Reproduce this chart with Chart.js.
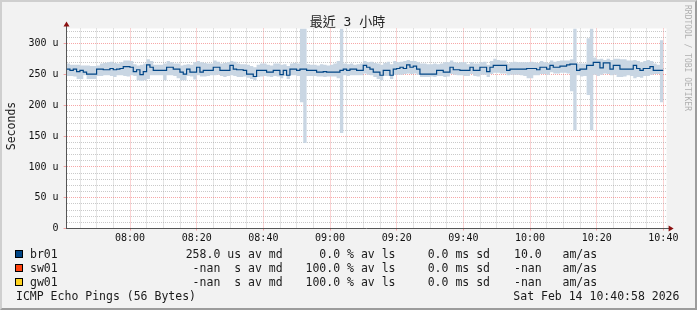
<!DOCTYPE html>
<html>
<head>
<meta charset="utf-8">
<script src="https://cdn.jsdelivr.net/npm/chart.js@4/dist/chart.umd.min.js"></script>
<style>
  html, body { margin: 0; padding: 0; }
  body { width: 697px; height: 310px; background: #f2f2f2; position: relative; overflow: hidden;
         font-family: 'DejaVu Sans Mono', monospace; color: #1a1a1a; }
  canvas { position: absolute; left: 0; top: 0; }
  #frame { position: absolute; left: 0; top: 0; width: 697px; height: 310px; box-sizing: border-box;
           border-top: 2px solid #cfcfcf; border-left: 2px solid #cfcfcf;
           border-right: 2px solid #9c9c9c; border-bottom: 2px solid #9c9c9c; pointer-events: none; }
  .t { position: absolute; white-space: pre; font-size: 11.5px; line-height: 14px; }
  .box { position: absolute; width: 8px; height: 8px; box-sizing: border-box; border: 1px solid #000; }
  #title { position: absolute; left: 0; width: 695px; top: 14px; text-align: center; white-space: pre;
           font-family: 'DejaVu Sans Mono', 'Noto Sans CJK TC', monospace; font-size: 13px; line-height: 16px; color: #222; }
  #ytitle { position: absolute; left: 11px; top: 126px; transform: translate(-50%, -50%) rotate(-90deg);
            font-size: 11.5px; white-space: pre; }
  #mark { position: absolute; left: 683px; top: 5px; writing-mode: vertical-rl; font-size: 8px;
          line-height: 9px; color: #b0b0b0; white-space: pre; }
</style>
</head>
<body>
<canvas id="chart" width="697" height="310"></canvas>
<div id="title">最近 3 小時</div>
<div id="ytitle">Seconds</div>
<div id="mark">RRDTOOL / TOBI OETIKER</div>
<div id="legend"></div>
<div id="frame"></div>
<script>
// graph window: 3 hours ending 10:40:58, one value per minute
const START = '07:40:58';
const SPAN_MIN = 180;

// median rtt (us) per minute
const medianUs = [
  259, 257, 259, 255, 257, 254, 251, 251, 251, 259, 259, 258, 258, 260, 258, 259, 260, 263, 263, 262,
  255, 258, 250, 255, 266, 262, 257, 257, 257, 257, 262, 262, 259, 259, 254, 251, 259, 254, 254, 262,
  254, 257, 257, 257, 262, 262, 257, 257, 257, 265, 259, 258, 258, 257, 251, 251, 247, 257, 257, 257,
  254, 254, 257, 257, 250, 257, 249, 259, 259, 257, 259, 259, 257, 257, 257, 254, 254, 255, 254, 254,
  254, 254, 257, 259, 257, 259, 259, 257, 257, 265, 262, 259, 254, 254, 249, 257, 257, 249, 259, 260,
  262, 260, 266, 262, 264, 259, 251, 251, 251, 251, 251, 257, 257, 254, 254, 262, 258, 258, 257, 257,
  257, 262, 257, 257, 262, 262, 255, 262, 265, 265, 265, 265, 257, 259, 259, 259, 259, 259, 260, 260,
  260, 258, 262, 262, 259, 265, 262, 262, 264, 264, 266, 267, 267, 257, 259, 259, 265, 265, 270, 270,
  261, 269, 269, 259, 265, 265, 259, 259, 259, 259, 265, 260, 257, 260, 260, 263, 257, 257, 257
];

// smoke band, highest ping per minute (us)
const smokeHigh = [
  268, 266, 266, 266, 265, 265, 265, 264, 264, 265, 268, 269, 270, 271, 269, 268, 270, 273, 273, 272,
  267, 265, 266, 268, 275, 272, 266, 266, 266, 268, 272, 270, 268, 268, 265, 266, 267, 266, 270, 272,
  270, 269, 268, 268, 273, 271, 268, 269, 270, 272, 271, 268, 267, 267, 266, 264, 262, 266, 268, 268,
  266, 265, 268, 268, 266, 267, 264, 268, 269, 268, 340, 340, 267, 266, 266, 265, 267, 266, 265, 266,
  268, 272, 340, 268, 267, 268, 266, 267, 268, 272, 270, 271, 269, 268, 266, 269, 271, 267, 272, 270,
  271, 272, 274, 272, 272, 270, 268, 268, 267, 267, 268, 267, 268, 270, 270, 273, 270, 269, 270, 270,
  267, 270, 268, 268, 270, 271, 266, 272, 276, 274, 273, 273, 268, 270, 271, 270, 270, 270, 270, 271,
  270, 269, 272, 270, 269, 273, 271, 272, 273, 273, 273, 275, 340, 268, 268, 268, 309, 340, 278, 275,
  276, 274, 276, 274, 276, 276, 275, 275, 273, 273, 274, 272, 270, 272, 274, 272, 268, 266, 306
];

// smoke band, lowest ping per minute (us)
const smokeLow = [
  248, 248, 247, 243, 243, 249, 243, 243, 243, 248, 248, 249, 249, 248, 246, 249, 249, 248, 247, 249,
  248, 241, 240, 241, 243, 249, 249, 249, 249, 241, 249, 249, 248, 244, 241, 241, 248, 247, 242, 249,
  247, 247, 248, 249, 249, 250, 248, 246, 248, 249, 248, 246, 246, 247, 245, 243, 241, 246, 247, 248,
  247, 246, 248, 247, 244, 248, 243, 249, 249, 248, 205, 139, 248, 248, 248, 247, 247, 246, 247, 247,
  247, 244, 155, 249, 248, 249, 249, 249, 249, 252, 250, 249, 246, 243, 241, 248, 248, 243, 250, 250,
  250, 251, 252, 251, 252, 250, 246, 246, 246, 247, 246, 248, 248, 246, 247, 251, 250, 249, 249, 248,
  248, 251, 248, 247, 250, 250, 246, 251, 253, 253, 252, 252, 249, 250, 250, 250, 249, 248, 244, 244,
  249, 249, 251, 251, 250, 254, 252, 252, 253, 253, 252, 223, 160, 249, 247, 248, 217, 160, 250, 248,
  250, 252, 251, 249, 250, 246, 246, 247, 249, 248, 244, 246, 245, 248, 248, 250, 251, 251, 205
];

const timeLabels = ['08:00', '08:20', '08:40', '09:00', '09:20', '09:40', '10:00', '10:20', '10:40'];
const yLabelValues = [0, 50, 100, 150, 200, 250, 300];
const yLabels = ['0', '50 u', '100 u', '150 u', '200 u', '250 u', '300 u'];

// legend rows
const hosts = ['br01', 'sw01', 'gw01'];
const hostColors = ['#004586', '#ff420e', '#ffd320'];
const medianText = ['258.0 us av md', ' -nan  s av md', ' -nan  s av md'];
const lossText = ['  0.0 % av ls', '100.0 % av ls', '100.0 % av ls'];
const sdText = ['0.0 ms sd', '0.0 ms sd', '0.0 ms sd'];
const amasText = ['10.0   am/as', '-nan   am/as', '-nan   am/as'];
const footLeft = 'ICMP Echo Pings (56 Bytes)';
const footRight = 'Sat Feb 14 10:40:58 2026';

const get = (id) => document.getElementById(id);
const [sh, sm, ss] = START.split(':').map(Number);
const startMin = sh * 60 + sm + ss / 60;

const SMOKE = '#c9d6e3';
const MINOR = 'rgba(150, 150, 150, 0.5)';
const MAJOR = 'rgba(240, 80, 80, 0.5)';

function steps(arr) {
    const pts = arr.map((v, i) => ({ x: i, y: v }));
    pts.push({ x: arr.length, y: arr[arr.length - 1] });
    return pts;
}

function buildLegend() {
    const rowTop = [247, 261, 275];
    let html = '';
    hosts.forEach((h, i) => {
        const top = rowTop[i];
        html += `<div class="box" style="left:15px;top:${top + 3}px;background:${hostColors[i]}"></div>`;
        html += `<div class="t" style="left:30px;top:${top}px">${h}</div>`;
        html += `<div class="t" style="left:185.7px;top:${top}px">${medianText[i]}</div>`;
        html += `<div class="t" style="left:305.5px;top:${top}px">${lossText[i]}</div>`;
        html += `<div class="t" style="left:427.7px;top:${top}px">${sdText[i]}</div>`;
        html += `<div class="t" style="left:514px;top:${top}px">${amasText[i]}</div>`;
    });
    html += `<div class="t" style="left:16px;top:289px">${footLeft}</div>`;
    html += `<div class="t" style="left:513.3px;top:289px">${footRight}</div>`;
    get('legend').innerHTML = html;
}

const plotBg = {
    id: 'plotBg',
    beforeDraw(c) {
        const a = c.chartArea, ctx = c.ctx;
        ctx.save();
        ctx.fillStyle = '#ffffff';
        ctx.fillRect(a.left, a.top, a.right - a.left, a.bottom - a.top);
        ctx.restore();
    }
};

// axis extensions + arrow heads, rrdtool style
const arrows = {
    id: 'arrows',
    afterDraw(c) {
        const a = c.chartArea, ctx = c.ctx;
        const x0 = Math.round(a.left - 0.5) + 0.5, y0 = Math.round(a.bottom - 0.5) + 0.5;
        ctx.save();
        ctx.strokeStyle = '#555';
        ctx.lineWidth = 1;
        ctx.beginPath();
        ctx.moveTo(x0, a.top); ctx.lineTo(x0, a.top - 4);
        ctx.moveTo(a.right, y0); ctx.lineTo(a.right + 3, y0);
        ctx.stroke();
        ctx.fillStyle = '#8b1010';
        ctx.beginPath();
        ctx.moveTo(x0 - 3, a.top - 2); ctx.lineTo(x0 + 3, a.top - 2); ctx.lineTo(x0, a.top - 7);
        ctx.closePath(); ctx.fill();
        ctx.beginPath();
        ctx.moveTo(a.right + 2, y0 - 3); ctx.lineTo(a.right + 2, y0 + 3); ctx.lineTo(a.right + 7, y0);
        ctx.closePath(); ctx.fill();
        ctx.restore();
    }
};

function initChart() {
    const ctx = get('chart').getContext('2d');
    new Chart(ctx, {
        type: 'line',
        data: {
            datasets: [
                { data: steps(smokeHigh), stepped: true, borderWidth: 0, borderColor: 'transparent', pointRadius: 0, fill: false, order: 2 },
                { data: steps(smokeLow), stepped: true, borderWidth: 0, borderColor: 'transparent', pointRadius: 0, fill: '-1', backgroundColor: SMOKE, order: 1 },
                // median drawn last, on top of the smoke
                { data: steps(medianUs), stepped: true, borderColor: '#004586', borderWidth: 1.2, pointRadius: 0, fill: false, order: 0 }
            ]
        },
        options: {
            responsive: false,
            animation: false,
            events: [],
            layout: { padding: { top: 28.5, right: 30.4, left: 0, bottom: 0 } },
            plugins: { legend: { display: false }, tooltip: { enabled: false }, title: { display: false } },
            scales: {
                x: {
                    type: 'linear',
                    min: 0,
                    max: SPAN_MIN,
                    afterFit: (s) => { s.height = 81.5; },
                    afterBuildTicks: (s) => {
                        const t = [];
                        for (let m = 7 * 60 + 45; m <= 10 * 60 + 40; m += 5) t.push({ value: m - startMin, clock: m });
                        s.ticks = t;
                    },
                    grid: {
                        color: (c) => (c.tick && c.tick.clock % 20 === 0) ? MAJOR : MINOR,
                        tickColor: (c) => (c.tick && c.tick.clock % 20 === 0) ? MAJOR : 'transparent',
                        tickLength: 2,
                        lineWidth: 1
                    },
                    border: { display: true, color: '#555', width: 1, dash: [1, 1] },
                    ticks: {
                        autoSkip: false,
                        maxRotation: 0,
                        padding: 2,
                        color: '#111',
                        font: { family: 'DejaVu Sans Mono', size: 10 },
                        callback: (v, i, ticks) => {
                            const clk = ticks[i].clock;
                            return clk % 20 === 0 ? timeLabels[(clk - 480) / 20] : '';
                        }
                    }
                },
                y: {
                    min: 0,
                    max: 325,
                    afterFit: (s) => { s.width = 66.6; },
                    afterBuildTicks: (s) => {
                        const t = [];
                        for (let v = 0; v <= 320; v += 10) t.push({ value: v });
                        s.ticks = t;
                    },
                    grid: {
                        color: (c) => (c.tick && c.tick.value % 50 === 0) ? MAJOR : MINOR,
                        tickColor: (c) => (c.tick && c.tick.value % 50 === 0) ? MAJOR : 'transparent',
                        tickLength: 3,
                        lineWidth: 1
                    },
                    border: { display: true, color: '#555', width: 1, dash: [1, 1] },
                    ticks: {
                        autoSkip: false,
                        padding: 5,
                        color: '#111',
                        font: { family: 'DejaVu Sans Mono', size: 10 },
                        callback: (v) => {
                            const k = yLabelValues.indexOf(v);
                            return k >= 0 ? yLabels[k] : '';
                        }
                    }
                }
            }
        },
        plugins: [plotBg, arrows]
    });
}

document.addEventListener('DOMContentLoaded', () => {
    buildLegend();
    initChart();
});
</script>
</body>
</html>
